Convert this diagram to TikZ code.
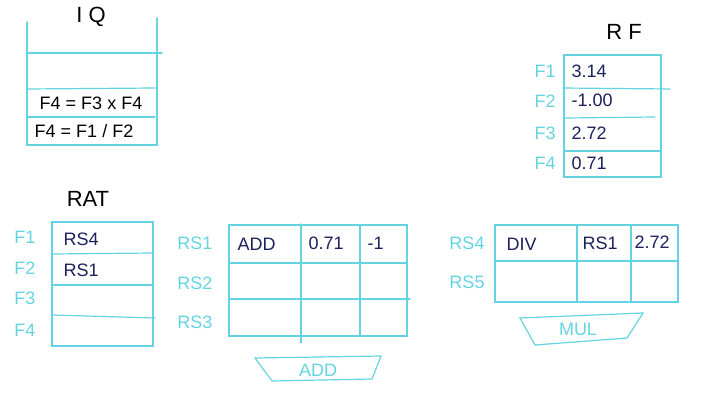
\documentclass[tikz,border=0pt]{standalone}
\usepackage{fontspec}
\setmainfont{Liberation Sans}
\definecolor{cy}{RGB}{100,212,226}
\definecolor{nv}{RGB}{28,32,92}
\begin{document}
\begin{tikzpicture}[x=1pt,y=-1pt,
  ln/.style={draw=cy,line width=1.2pt,line cap=round},
  ttl/.style={text=black,font=\fontsize{22}{22}\selectfont},
  val/.style={text=nv,font=\fontsize{18}{18}\selectfont,anchor=west},
  lab/.style={text=cy,font=\fontsize{18}{18}\selectfont},
  iq/.style={text=black,font=\fontsize{18}{18}\selectfont}]
\useasboundingbox (0,0) rectangle (701,404);
% IQ
\node[ttl] (iqt) at (91,17) {I Q};
\draw[ln] (27,22) -- (27,145) -- (157,145) -- (157,18);
\draw[ln] (26,53) -- (162,53);
\draw[ln] (27,89) -- (155,88);
\draw[ln] (27,117) -- (155,117);
\node[iq] (iq1) at (91,103) {F4 = F3 x F4};
\node[iq] (iq2) at (84,131) {F4 = F1 / F2};
% RF
\node[ttl] (rft) at (624,32) {R F};
\draw[ln] (564,55) rectangle (661,177);
\draw[ln] (563,88) -- (670,89);
\draw[ln] (565,118) -- (655,117);
\draw[ln] (565,151) -- (661,151);
\node[lab] (rf1) at (545,71) {F1};
\node[lab] (rf2) at (545,101) {F2};
\node[lab] (rf3) at (545,133) {F3};
\node[lab] (rf4) at (545,163) {F4};
\node[val] (rv1) at (568,71) {3.14};
\node[val] (rv2) at (568,100) {-1.00};
\node[val] (rv3) at (568,133) {2.72};
\node[val] (rv4) at (568,163) {0.71};
% RAT
\node[ttl] (ratt) at (88,199) {RAT};
\draw[ln] (52,222) rectangle (153,346);
\draw[ln] (52,254) -- (152,253);
\draw[ln] (52,285) -- (153,285);
\draw[ln] (52,315) -- (155,318);
\node[lab] (ra1) at (25,237) {F1};
\node[lab] (ra2) at (25,268) {F2};
\node[lab] (ra3) at (25,298) {F3};
\node[lab] (ra4) at (25,330) {F4};
\node[val] (rav1) at (60,239) {RS4};
\node[val] (rav2) at (60,270) {RS1};
% RS1-3
\draw[ln] (229,225) rectangle (407,336);
\draw[ln] (229,263) -- (407,263);
\draw[ln] (229,299) -- (410,299);
\draw[ln] (301,224) -- (301,343);
\draw[ln] (360,225) -- (360,336);
\node[lab] (rs1) at (195,243) {RS1};
\node[lab] (rs2) at (195,283) {RS2};
\node[lab] (rs3) at (195,322) {RS3};
\node[val] (a1) at (234,244) {ADD};
\node[val] (a2) at (305,243) {0.71};
\node[val] (a3) at (364,243) {-1};
% ADD unit
\draw[ln] (255,358) -- (381,356) -- (372,379) -- (272,381) -- cycle;
\node[lab] (addu) at (318,370) {ADD};
% RS4-5
\draw[ln] (495,225) rectangle (678,302);
\draw[ln] (495,261) -- (678,261);
\draw[ln] (577,225) -- (577,302);
\draw[ln] (631,225) -- (631,302);
\node[lab] (rs4) at (467,243) {RS4};
\node[lab] (rs5) at (467,282) {RS5};
\node[val] (d1) at (503,244) {DIV};
\node[val] (d2) at (579,243) {RS1};
\node[val] (d3) at (631,242) {2.72};
% MUL unit
\draw[ln] (520,318) -- (643,313) -- (627,338) -- (535,345) -- cycle;
\node[lab] (mulu) at (578,329) {MUL};
\end{tikzpicture}
\end{document}
